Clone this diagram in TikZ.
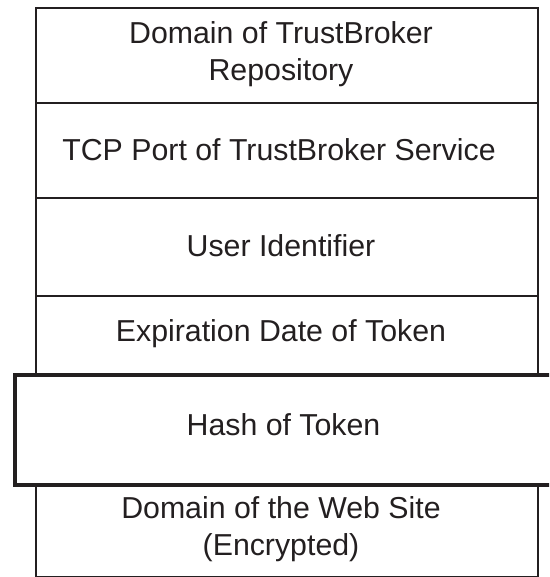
\documentclass[tikz,border=0pt]{standalone}
\usepackage{fontspec}
\setmainfont{Liberation Sans}
\definecolor{ink}{HTML}{231F20}
\begin{document}
\begin{tikzpicture}[x=1pt,y=-1pt,
  cell/.style={draw=ink,line width=2pt,inner sep=0pt,anchor=north west},
  bigcell/.style={draw=ink,line width=3.5pt,inner sep=0pt,anchor=north west},
  txt/.style={text=ink,font=\fontsize{30.3}{37}\selectfont,align=center,inner sep=0pt}]
\useasboundingbox (0,0) rectangle (549,577);
\clip (0,0) rectangle (549,577);
\node[cell,minimum width=502pt,minimum height=95pt] (b1) at (35,7) {};
\node[cell,minimum width=502pt,minimum height=95pt] (b2) at (35,102) {};
\node[cell,minimum width=502pt,minimum height=98pt] (b3) at (35,197) {};
\node[cell,minimum width=502pt,minimum height=78pt] (b4) at (35,295) {};
\node[cell,minimum width=502pt,minimum height=93pt] (b6) at (35,483) {};
\node[bigcell,minimum width=550pt,minimum height=110pt] (b5) at (13,373) {};
\node[txt] (t1) at (281,54.5) {Domain of TrustBroker\\Repository};
\node[txt] (t2) at (279,149.5) {TCP Port of TrustBroker Service};
\node[txt] (t3) at (281,246) {User Identifier};
\node[txt] (t4) at (281,334) {Expiration Date of Token};
\node[txt] (t5) at (283.5,425) {Hash of Token};
\node[txt] (t6) at (281,529) {Domain of the Web Site\\(Encrypted)};
\end{tikzpicture}
\end{document}
